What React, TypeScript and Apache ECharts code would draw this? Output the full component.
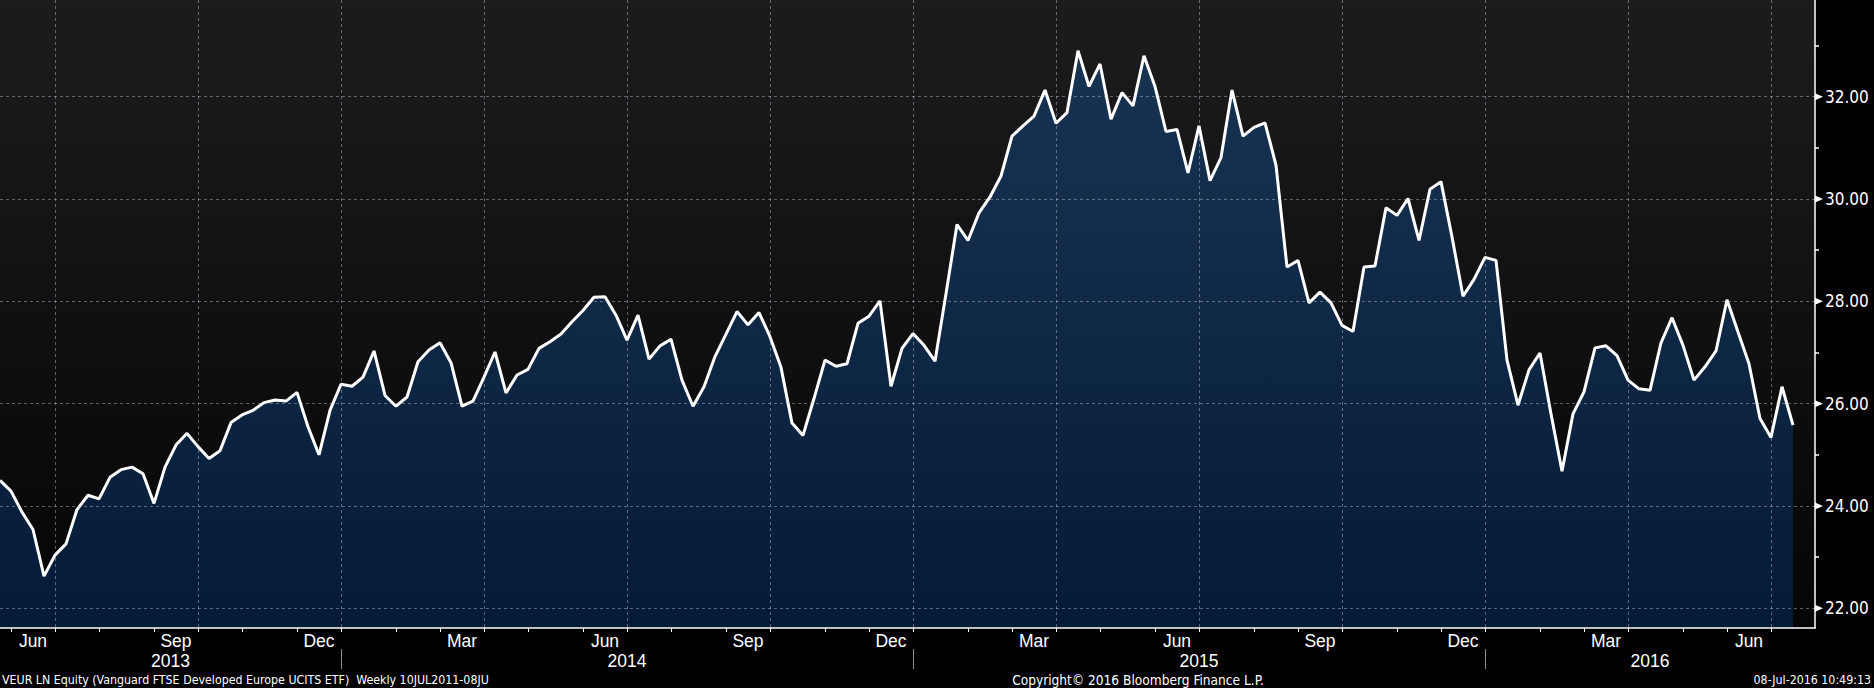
import React, { useEffect, useRef } from "react";
import * as echarts from "echarts";

// ---- data ----
const START_DATE_UTC = Date.UTC(2013, 4, 24); // first weekly close (Fri 24 May 2013)
const AXIS_WEEKS = 166; // weekly slots shown on the axis (data + 2 empty)
const PRICES: number[] = [
  24.5, 24.29, 23.88, 23.54, 22.63, 23.04, 23.26, 23.93, 24.21, 24.14,
  24.56, 24.71, 24.76, 24.63, 24.05, 24.76, 25.19, 25.42, 25.16, 24.93,
  25.08, 25.63, 25.78, 25.87, 26.02, 26.07, 26.05, 26.22, 25.55, 25.0,
  25.87, 26.38, 26.34, 26.52, 27.03, 26.16, 25.95, 26.13, 26.82, 27.05,
  27.19, 26.8, 25.95, 26.05, 26.52, 27.01, 26.21, 26.56, 26.67, 27.08,
  27.21, 27.36, 27.6, 27.82, 28.08, 28.09, 27.73, 27.24, 27.73, 26.87,
  27.13, 27.26, 26.46, 25.95, 26.33, 26.92, 27.36, 27.8, 27.54, 27.78,
  27.31, 26.71, 25.62, 25.38, 26.1, 26.85, 26.73, 26.78, 27.57, 27.71,
  28.01, 26.34, 27.08, 27.37, 27.14, 26.83, 28.15, 29.5, 29.19, 29.73,
  30.04, 30.45, 31.23, 31.43, 31.62, 32.13, 31.48, 31.69, 32.9, 32.2,
  32.64, 31.56, 32.08, 31.82, 32.8, 32.2, 31.32, 31.36, 30.51, 31.43,
  30.36, 30.81, 32.13, 31.23, 31.4, 31.49, 30.66, 28.67, 28.8, 27.97,
  28.18, 27.97, 27.53, 27.41, 28.67, 28.69, 29.83, 29.68, 30.01, 29.19,
  30.19, 30.34, 29.26, 28.1, 28.43, 28.86, 28.8, 26.85, 25.97, 26.66,
  26.99, 25.8, 24.68, 25.8, 26.23, 27.09, 27.13, 26.94, 26.46, 26.29,
  26.26, 27.19, 27.68, 27.14, 26.46, 26.72, 27.03, 28.03, 27.4, 26.78,
  25.71, 25.34, 26.33, 25.58,
];
const MONTH_NAMES = ["Jan", "Feb", "Mar", "Apr", "May", "Jun", "Jul", "Aug", "Sep", "Oct", "Nov", "Dec"];
const QUARTER_END_MONTHS = [2, 5, 8, 11];
const Y_MIN = 21.615;
const Y_MAX = 33.89;
const Y_MAJOR_VALUES = [22, 24, 26, 28, 30, 32];
const FOOTER_LEFT = "VEUR LN Equity (Vanguard FTSE Developed Europe UCITS ETF)  Weekly 10JUL2011-08JU";
const FOOTER_CENTER = "Copyright\u00A9 2016 Bloomberg Finance L.P.";
const FOOTER_RIGHT = "08-Jul-2016 10:49:13";

// ---- styles ----
const W = 1874;
const H = 688;
const GRID_COLOR = "rgba(210,210,215,0.42)";
const LABEL_FONT = '"Liberation Sans", Arial, sans-serif';
const NUM_FONT = '"DejaVu Sans Condensed", "DejaVu Sans", sans-serif';

const dates = Array.from({ length: AXIS_WEEKS }, (_, i) => new Date(START_DATE_UTC + i * 7 * 86400000));
const categories = dates.map((d) => d.toISOString().slice(0, 10));
const monthOf = (i: number) => dates[i].getUTCMonth();
const isMonthEnd = (i: number) => i < AXIS_WEEKS - 1 && monthOf(i) !== monthOf(i + 1);
const isQuarterEnd = (i: number) => isMonthEnd(i) && QUARTER_END_MONTHS.includes(monthOf(i));
const quarterIdx = categories.map((_, i) => i).filter(isQuarterEnd);
const labelIdx = new Set(quarterIdx.map((q) => q - 2));
const yearEndIdx = quarterIdx.filter((q) => monthOf(q) === 11);

export default function App() {
  const ref = useRef<HTMLDivElement>(null);
  useEffect(() => {
    document.body.style.margin = "0";
    document.body.style.background = "#000";
    const chart = echarts.init(ref.current!, undefined, { renderer: "svg", width: W, height: H });
    const option: any = {
      animation: false,
      backgroundColor: "#000",
      grid: {
        left: 0,
        right: 59,
        top: 0,
        bottom: 60,
        show: true,
        borderWidth: 0,
        backgroundColor: new echarts.graphic.LinearGradient(0, 0, 0, 1, [
          { offset: 0, color: "#1c1c1f" },
          { offset: 1, color: "#050508" },
        ]),
      },
      xAxis: {
        type: "category",
        data: categories,
        boundaryGap: false,
        z: 3,
        axisLine: { lineStyle: { color: "#ffffff", width: 1.5 } },
        axisTick: { show: true, interval: (i: number) => isMonthEnd(i), length: 4, lineStyle: { color: "#ffffff", width: 1 } },
        splitLine: { show: true, interval: (i: number) => isQuarterEnd(i), lineStyle: { color: GRID_COLOR, width: 1, type: [3, 3] } },
        axisLabel: {
          interval: (i: number) => labelIdx.has(i),
          formatter: (v: string) => MONTH_NAMES[new Date(v + "T00:00:00Z").getUTCMonth()],
          color: "#ffffff",
          fontFamily: LABEL_FONT,
          fontSize: 17.5,
          margin: 4,
        },
      },
      yAxis: {
        type: "value",
        position: "right",
        min: Y_MIN,
        max: Y_MAX,
        splitNumber: 6,
        z: 3,
        axisLine: { show: true, lineStyle: { color: "#ffffff", width: 1.5 } },
        axisTick: { show: false },
        minorTick: { show: true, splitNumber: 2, length: 4, lineStyle: { color: "#ffffff", width: 1.5 } },
        splitLine: { show: true, showMinLine: false, showMaxLine: false, lineStyle: { color: GRID_COLOR, width: 1, type: [3, 3] } },
        axisLabel: {
          showMinLabel: false,
          showMaxLabel: false,
          formatter: (v: number) => v.toFixed(2),
          color: "#ffffff",
          fontFamily: NUM_FONT,
          fontSize: 17,
          margin: 10,
        },
      },
      series: [
        {
          type: "line",
          data: PRICES,
          symbol: "none",
          showSymbol: false,
          z: 2,
          lineStyle: { color: "#ffffff", width: 3 },
          areaStyle: {
            opacity: 1,
            color: new echarts.graphic.LinearGradient(0, 0, 0, 1, [
              { offset: 0, color: "#183352" },
              { offset: 1, color: "#041b38" },
            ]),
          },
        },
      ],
    };
    chart.setOption(option);

    const x0 = chart.convertToPixel({ xAxisIndex: 0 }, 0) as number;
    const xN = chart.convertToPixel({ xAxisIndex: 0 }, AXIS_WEEKS - 1) as number;
    const px = (i: number) => x0 + (i * (xN - x0)) / (AXIS_WEEKS - 1);
    const axisX = xN;
    const graphics: any[] = [];

    Y_MAJOR_VALUES.forEach((v) => {
      const y = chart.convertToPixel({ yAxisIndex: 0 }, v) as number;
      graphics.push({
        type: "polygon",
        shape: { points: [[axisX, y - 3.5], [axisX + 8, y], [axisX, y + 3.5]] },
        style: { fill: "#ffffff" },
        z: 10,
      });
    });

    const bounds = [0, ...yearEndIdx, AXIS_WEEKS - 1];
    for (let k = 0; k < bounds.length - 1; k++) {
      const a = bounds[k];
      const b = bounds[k + 1];
      graphics.push({
        type: "text",
        x: px((a + b) / 2),
        y: 661,
        style: {
          text: String(dates[a + 1].getUTCFullYear()),
          fill: "#ffffff",
          font: `17.5px ${LABEL_FONT}`,
          textAlign: "center",
          textVerticalAlign: "middle",
        },
        z: 10,
      });
    }
    yearEndIdx.forEach((q) => {
      const x = Math.round(px(q)) + 0.5;
      graphics.push({
        type: "line",
        shape: { x1: x, y1: 649, x2: x, y2: 669 },
        style: { stroke: "#8c8c8c", lineWidth: 1 },
        z: 10,
      });
    });

    graphics.push(
      { type: "text", x: 2, y: 680, style: { text: FOOTER_LEFT, fill: "#ffffff", font: `12.3px ${NUM_FONT}`, textAlign: "left", textVerticalAlign: "middle" }, z: 10 },
      { type: "text", x: 1138, y: 680, style: { text: FOOTER_CENTER, fill: "#ffffff", font: `13.6px ${NUM_FONT}`, textAlign: "center", textVerticalAlign: "middle" }, z: 10 },
      { type: "text", x: 1871, y: 680, style: { text: FOOTER_RIGHT, fill: "#ffffff", font: `12.3px ${NUM_FONT}`, textAlign: "right", textVerticalAlign: "middle" }, z: 10 }
    );
    chart.setOption({ graphic: graphics });

    return () => chart.dispose();
  }, []);
  return <div ref={ref} style={{ position: "absolute", left: 0, top: 0, width: W, height: H }} />;
}
